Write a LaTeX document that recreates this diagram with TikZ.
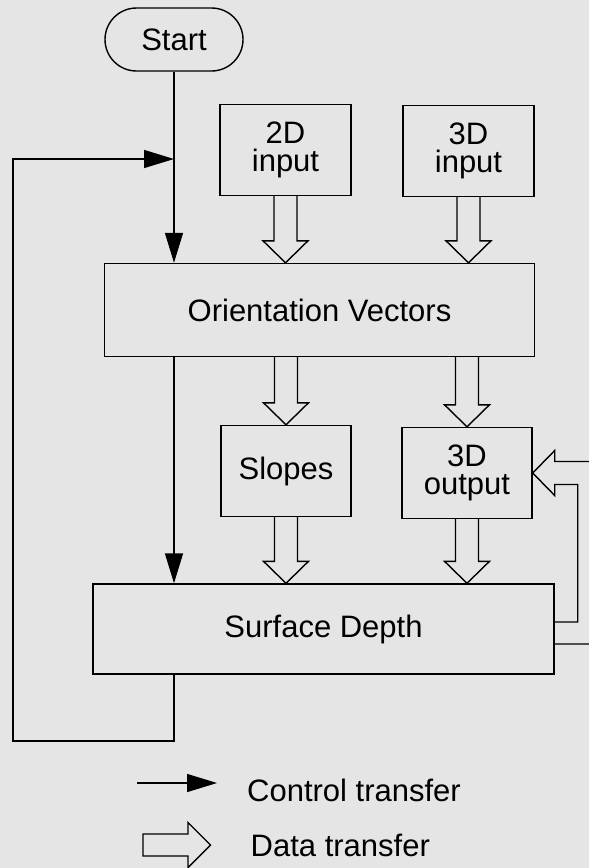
\documentclass[tikz,border=0pt]{standalone}
\usepackage{fontspec}
\setmainfont{Liberation Sans}
\usetikzlibrary{arrows.meta,calc}
\tikzset{
  box/.style={draw,inner sep=0pt,minimum width=131pt,minimum height=91pt,align=center},
  datapath/.style={line join=miter,to path={let \p1=(\tikztostart),\p2=(\tikztotarget) in
    (\x1-11.5pt,\y1) -- (\x1-11.5pt,\y2+22pt) -- (\x1-22.5pt,\y2+22pt) -- (\x1,\y2)
    -- (\x1+22.5pt,\y2+22pt) -- (\x1+11.5pt,\y2+22pt) -- (\x1+11.5pt,\y1)}},
  legendtext/.style={anchor=base west,inner sep=0pt}
}

\begin{document}
\begin{tikzpicture}[x=1pt,y=-1pt,>={Triangle[length=30pt,width=18pt]},line width=1.4pt,font=\fontsize{31}{27.5}\selectfont]
\useasboundingbox (0,0) rectangle (589,868);
\clip (0,0) rectangle (589,868);
\fill[black!10] (0,0) rectangle (589,868);
\node[box,rounded corners=31.5pt,minimum width=138pt,minimum height=63pt] (start) at (174,39.5) {Start};
\node[box] (in2d) at (285.5,150) {2D\\input};
\node[box] (in3d) at (468.5,151) {3D\\input};
\node[box,minimum width=430pt,minimum height=93pt] (orient) at (319.5,310) {Orientation Vectors};
\node[box,minimum width=130pt] (slopes) at (286,471) {Slopes};
\node[box,minimum width=130pt] (out3d) at (467,473) {3D\\output};
\node[box,minimum width=461pt,minimum height=90pt] (surf) at (323.5,629) {Surface Depth};
\coordinate (join) at (start.south |- 0,159);
\coordinate (fbk) at (13,741);
\draw[->] (start) -- (orient.north -| start);
\draw[->] (orient.south -| start) -- (surf.north -| start);
\draw[->] (surf.south -| start) |- (fbk) |- (join);
\draw[datapath] (in2d.south) to (orient.north -| in2d.south);
\draw[datapath] (in3d.south) to (orient.north -| in3d.south);
\draw[datapath] (orient.south -| slopes.north) to (slopes.north);
\draw[datapath] (orient.south -| out3d.north) to (out3d.north);
\draw[datapath] (slopes.south) to (surf.north -| slopes.south);
\draw[datapath] (out3d.south) to (surf.north -| out3d.south);
\draw[line join=miter] (surf.east |- 0,622) -| ($(out3d.east)+(45,11.5)$) -- ($(out3d.east)+(22,11.5)$)
  -- ($(out3d.east)+(22,22.5)$) -- (out3d.east) -- ($(out3d.east)+(22,-22.5)$)
  -- ($(out3d.east)+(22,-11.5)$) -| (600,644) -- (surf.east |- 0,644);
\coordinate (ctlL) at (137,783);
\coordinate (ctlR) at (217,783);
\draw[->] (ctlL) -- (ctlR);
\node[legendtext] (ctltxt) at (246.5,801) {Control transfer};
\draw[line join=miter] (143,834) -- (188,834) -- (188,822.5) -- (210.5,845) -- (188,867.5) -- (188,856) -- (143,856) -- cycle;
\node[legendtext] (datatxt) at (250,856.5) {Data transfer};
\end{tikzpicture}
\end{document}
